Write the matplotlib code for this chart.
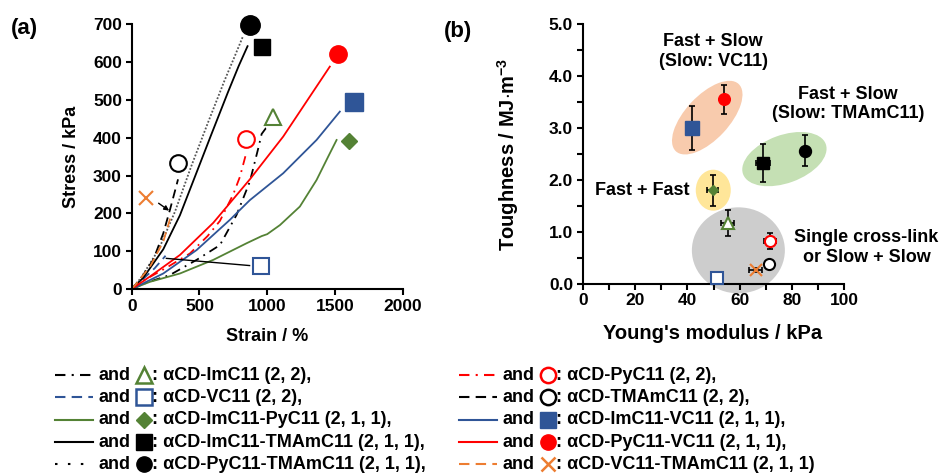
import matplotlib
matplotlib.use("Agg")
import matplotlib.pyplot as plt
from matplotlib.patches import Ellipse
from matplotlib.transforms import ScaledTranslation
from matplotlib.lines import Line2D
from matplotlib.offsetbox import DrawingArea, TextArea, HPacker, AnchoredOffsetbox

plt.rcParams['font.family'] = ['Liberation Sans', 'DejaVu Sans']
plt.rcParams['font.weight'] = 'bold'
plt.rcParams['axes.labelweight'] = 'bold'
plt.rcParams['mathtext.fontset'] = 'custom'
plt.rcParams['mathtext.rm'] = 'Liberation Sans:bold'
plt.rcParams['mathtext.bf'] = 'Liberation Sans:bold'

BLUE = "#2F5597"
RED = "#FF0000"
GREEN = "#548235"
ORANGE = "#ED7D31"

# --- (a) stress-strain curves ---
strain_imc11 = [0, 120, 282, 479, 651, 774, 872, 934, 959, 990, 1020]
stress_imc11 = [0, 18, 37, 77, 116, 196, 284, 372, 410, 425, 430]
strain_vc11 = [0, 80, 170, 250]
stress_vc11 = [0, 25, 55, 88]
strain_imc11_pyc11 = [0, 135, 356, 602, 848, 960, 1000, 1094, 1241, 1364, 1450, 1512]
stress_imc11_pyc11 = [0, 19, 41, 77, 121, 140, 145, 169, 218, 288, 350, 394]
strain_imc11_tmamc11 = [0, 86, 233, 356, 470, 587, 710, 790, 855]
stress_imc11_tmamc11 = [0, 30, 105, 195, 300, 408, 520, 590, 642]
strain_pyc11_tmamc11 = [0, 70, 200, 320, 440, 563, 686, 760, 821]
stress_pyc11_tmamc11 = [0, 30, 105, 205, 325, 440, 552, 615, 668]
strain_pyc11 = [0, 100, 250, 430, 560, 651, 700, 749, 799, 848]
stress_pyc11 = [0, 25, 55, 94, 140, 180, 215, 250, 297, 363]
strain_tmamc11 = [0, 61, 159, 233, 282, 320, 342]
stress_tmamc11 = [0, 24, 77, 147, 209, 260, 290]
strain_imc11_vc11 = [0, 233, 479, 725, 872, 1118, 1364, 1536]
stress_imc11_vc11 = [0, 41, 103, 183, 235, 306, 394, 469]
strain_pyc11_vc11 = [0, 135, 356, 602, 872, 1118, 1315, 1462]
stress_pyc11_vc11 = [0, 33, 90, 175, 290, 403, 509, 588]
strain_vc11_tmamc11 = [0, 37, 135, 233, 295]
stress_vc11_tmamc11 = [0, 15, 59, 125, 200]

names = ["ImC11", "VC11", "ImC11-PyC11", "ImC11-TMAmC11", "PyC11-TMAmC11",
         "PyC11", "TMAmC11", "ImC11-VC11", "PyC11-VC11", "VC11-TMAmC11"]
labels = ["αCD-ImC11 (2, 2),", "αCD-VC11 (2, 2),", "αCD-ImC11-PyC11 (2, 1, 1),",
          "αCD-ImC11-TMAmC11 (2, 1, 1),", "αCD-PyC11-TMAmC11 (2, 1, 1),",
          "αCD-PyC11 (2, 2),", "αCD-TMAmC11 (2, 2),", "αCD-ImC11-VC11 (2, 1, 1),",
          "αCD-PyC11-VC11 (2, 1, 1),", "αCD-VC11-TMAmC11 (2, 1, 1)"]
curves_x = [strain_imc11, strain_vc11, strain_imc11_pyc11, strain_imc11_tmamc11,
            strain_pyc11_tmamc11, strain_pyc11, strain_tmamc11, strain_imc11_vc11,
            strain_pyc11_vc11, strain_vc11_tmamc11]
curves_y = [stress_imc11, stress_vc11, stress_imc11_pyc11, stress_imc11_tmamc11,
            stress_pyc11_tmamc11, stress_pyc11, stress_tmamc11, stress_imc11_vc11,
            stress_pyc11_vc11, stress_vc11_tmamc11]

# break point markers in (a)
break_strain = [1042, 956, 1600, 960, 870, 841, 342, 1637, 1520, 103]
break_stress = [456, 62, 392, 641, 698, 396, 332, 495, 621, 241]

# --- (b) toughness vs Young's modulus ---
modulus = [55.5, 51.2, 49.7, 69.0, 85.0, 71.6, 71.1, 41.7, 54.0, 66.2]
modulus_err = [2.5, 0, 2.2, 2.7, 0, 2.3, 0, 0, 0, 2.5]
toughness = [1.17, 0.11, 1.80, 2.32, 2.56, 0.82, 0.37, 3.00, 3.55, 0.26]
toughness_err = [0.25, 0.02, 0.30, 0.37, 0.30, 0.15, 0.05, 0.43, 0.28, 0.03]

# line style, marker style per sample
ls_dashdot = (0, (5, 3, 1, 3))
ls_dash = (0, (5, 3))
STY = {
    "ImC11": dict(color="black", ls=ls_dashdot, m="^", fc="white", ec=GREEN, ms=12, msb=8),
    "VC11": dict(color=BLUE, ls=ls_dash, m="s", fc="white", ec=BLUE, ms=11, msb=8),
    "ImC11-PyC11": dict(color=GREEN, ls="-", m="D", fc=GREEN, ec=GREEN, ms=8.5, msb=5),
    "ImC11-TMAmC11": dict(color="black", ls="-", m="s", fc="black", ec="black", ms=12, msb=9),
    "PyC11-TMAmC11": dict(color="#555555", ls=(0, (1, 1)), m="o", fc="black", ec="black", ms=14, msb=8.6),
    "PyC11": dict(color=RED, ls=ls_dashdot, m="o", fc="white", ec=RED, ms=12, msb=8),
    "TMAmC11": dict(color="black", ls=ls_dash, m="o", fc="white", ec="black", ms=12, msb=8),
    "ImC11-VC11": dict(color=BLUE, ls="-", m="s", fc=BLUE, ec=BLUE, ms=12.5, msb=9.5),
    "PyC11-VC11": dict(color=RED, ls="-", m="o", fc=RED, ec=RED, ms=12.5, msb=8.4),
    "VC11-TMAmC11": dict(color=ORANGE, ls=ls_dash, m="x", fc=ORANGE, ec=ORANGE, ms=10, msb=8),
}

fig = plt.figure(figsize=(9.44, 4.73), dpi=100)
ax1 = fig.add_axes([0.1395, 0.389, 0.2871, 0.5597])
ax2 = fig.add_axes([0.6173, 0.4006, 0.2771, 0.548])

for ax in (ax1, ax2):
    ax.spines[['top', 'right']].set_visible(False)
    ax.spines[['left', 'bottom']].set_linewidth(1.5)
    ax.tick_params(which='both', length=4, width=1.5, labelsize=12.5, pad=3)

# panel (a)
for n, xs, ys, bx, by in zip(names, curves_x, curves_y, break_strain, break_stress):
    s = STY[n]
    ax1.plot(xs, ys, color=s["color"], ls=s["ls"], lw=1.3, zorder=2)
    ax1.plot([bx], [by], ls="none", marker=s["m"], ms=s["ms"], mfc=s["fc"], mec=s["ec"],
             mew=1.5 if s["fc"] == "white" or s["m"] == "x" else 1, zorder=3, clip_on=False)

ax1.annotate("", xy=(293, 203), xytext=(182, 231),
             arrowprops=dict(arrowstyle="-|>", color="black", lw=1, mutation_scale=7))
ax1.plot([870, 256], [62, 81], color="black", lw=1, zorder=2)

ax1.set_xlim(0, 2000)
ax1.set_ylim(0, 700)
ax1.set_xticks([0, 500, 1000, 1500, 2000])
ax1.set_yticks(range(0, 701, 100))
ax1.set_xlabel("Strain / %", fontsize=13)
ax1.set_ylabel("Stress / kPa", fontsize=13)
ax1.xaxis.set_label_coords(0.498, -0.148)
ax1.yaxis.set_label_coords(-0.19, 0.5)

# panel (b)
def blob(ax, xc, yc, w, h, ang, color):
    e = Ellipse((0, 0), w, h, angle=ang, facecolor=color, edgecolor="none", zorder=1,
                transform=fig.dpi_scale_trans + ScaledTranslation(xc, yc, ax.transData),
                clip_on=False)
    ax.add_patch(e)

blob(ax2, 47.6, 3.2, 0.92, 0.44, 47, "#F8CBAD")
blob(ax2, 77.1, 2.40, 0.88, 0.48, 20, "#C5E0B4")
blob(ax2, 49.9, 1.80, 0.35, 0.41, 0, "#FFE699")
blob(ax2, 59.5, 0.64, 0.93, 0.86, 0, "#CDCDCD")

for n, mx, mxe, ty, tye in zip(names, modulus, modulus_err, toughness, toughness_err):
    s = STY[n]
    ax2.errorbar(mx, ty, xerr=mxe if mxe else None, yerr=tye, fmt="none", ecolor="black",
                 elinewidth=1.2, capsize=2, capthick=1.2, zorder=3, clip_on=False)
    ax2.plot([mx], [ty], ls="none", marker=s["m"], ms=s["msb"], mfc=s["fc"], mec=s["ec"],
             mew=1.5 if s["fc"] == "white" or s["m"] == "x" else 1, zorder=4, clip_on=False)

ax2.set_xlim(0, 100)
ax2.set_ylim(0, 5)
ax2.set_xticks(range(0, 101, 20))
ax2.set_xticks(range(0, 101, 10), minor=True)
ax2.set_yticks([0, 1, 2, 3, 4, 5])
ax2.set_yticks([0.5, 1.5, 2.5, 3.5, 4.5], minor=True)
ax2.yaxis.set_major_formatter(matplotlib.ticker.FormatStrFormatter("%.1f"))
ax2.set_xlabel("Young's modulus / kPa", fontsize=14.5)
ax2.set_ylabel(r"Toughness / MJ$\cdot$m$^{\mathbf{-3}}$", fontsize=14.5)
ax2.xaxis.set_label_coords(0.498, -0.158)
ax2.yaxis.set_label_coords(-0.235, 0.5)

tk = dict(fontsize=13, fontweight="bold", ha="center", va="center", clip_on=False)
ax2.text(49.9, 4.47, "Fast + Slow\n(Slow: VC11)", **tk)
ax2.text(101.3, 3.46, "Fast + Slow\n(Slow: TMAmC11)", **tk)
ax2.text(40.8, 1.79, "Fast + Fast", **{**tk, "ha": "right"})
ax2.text(108.5, 0.70, "Single cross-link\nor Slow + Slow", **tk)

fig.text(0.026, 0.939, "(a)", fontsize=16, fontweight="bold", ha="center", va="center")
fig.text(0.485, 0.934, "(b)", fontsize=16, fontweight="bold", ha="center", va="center")

# legend rows under the panels
row_y = [375, 397, 420, 442, 464]
col_x = [55, 459]
for i, (n, lab) in enumerate(zip(names, labels)):
    s = STY[n]
    col, row = divmod(i, 5)
    line_da = DrawingArea(27, 10, 0, 0)
    lsl = (0, (1.2, 5)) if n == "PyC11-TMAmC11" else s["ls"]
    lcol = "black" if n == "PyC11-TMAmC11" else s["color"]
    line_da.add_artist(Line2D([0, 27], [5, 5], color=lcol, ls=lsl, lw=1.5))
    mk_da = DrawingArea(12, 12, 0, 0)
    mk_da.add_artist(Line2D([6], [6], ls="none", marker=s["m"], ms=min(s["ms"], 11),
                            mfc=s["fc"], mec=s["ec"],
                            mew=1.8 if s["fc"] == "white" or s["m"] == "x" else 1))
    tp = dict(fontsize=13, fontweight="bold")
    inner = HPacker(children=[line_da, TextArea("and", textprops=tp), mk_da], sep=4, align="center")
    box = HPacker(children=[inner, TextArea(": " + lab, textprops=tp)], sep=0, align="center")
    ab = AnchoredOffsetbox(loc="center left", child=box, pad=0, borderpad=0, frameon=False,
                           bbox_to_anchor=(col_x[col] / 944, 1 - row_y[row] / 473),
                           bbox_transform=fig.transFigure)
    fig.add_artist(ab)

fig.savefig("out.png", dpi=100)
